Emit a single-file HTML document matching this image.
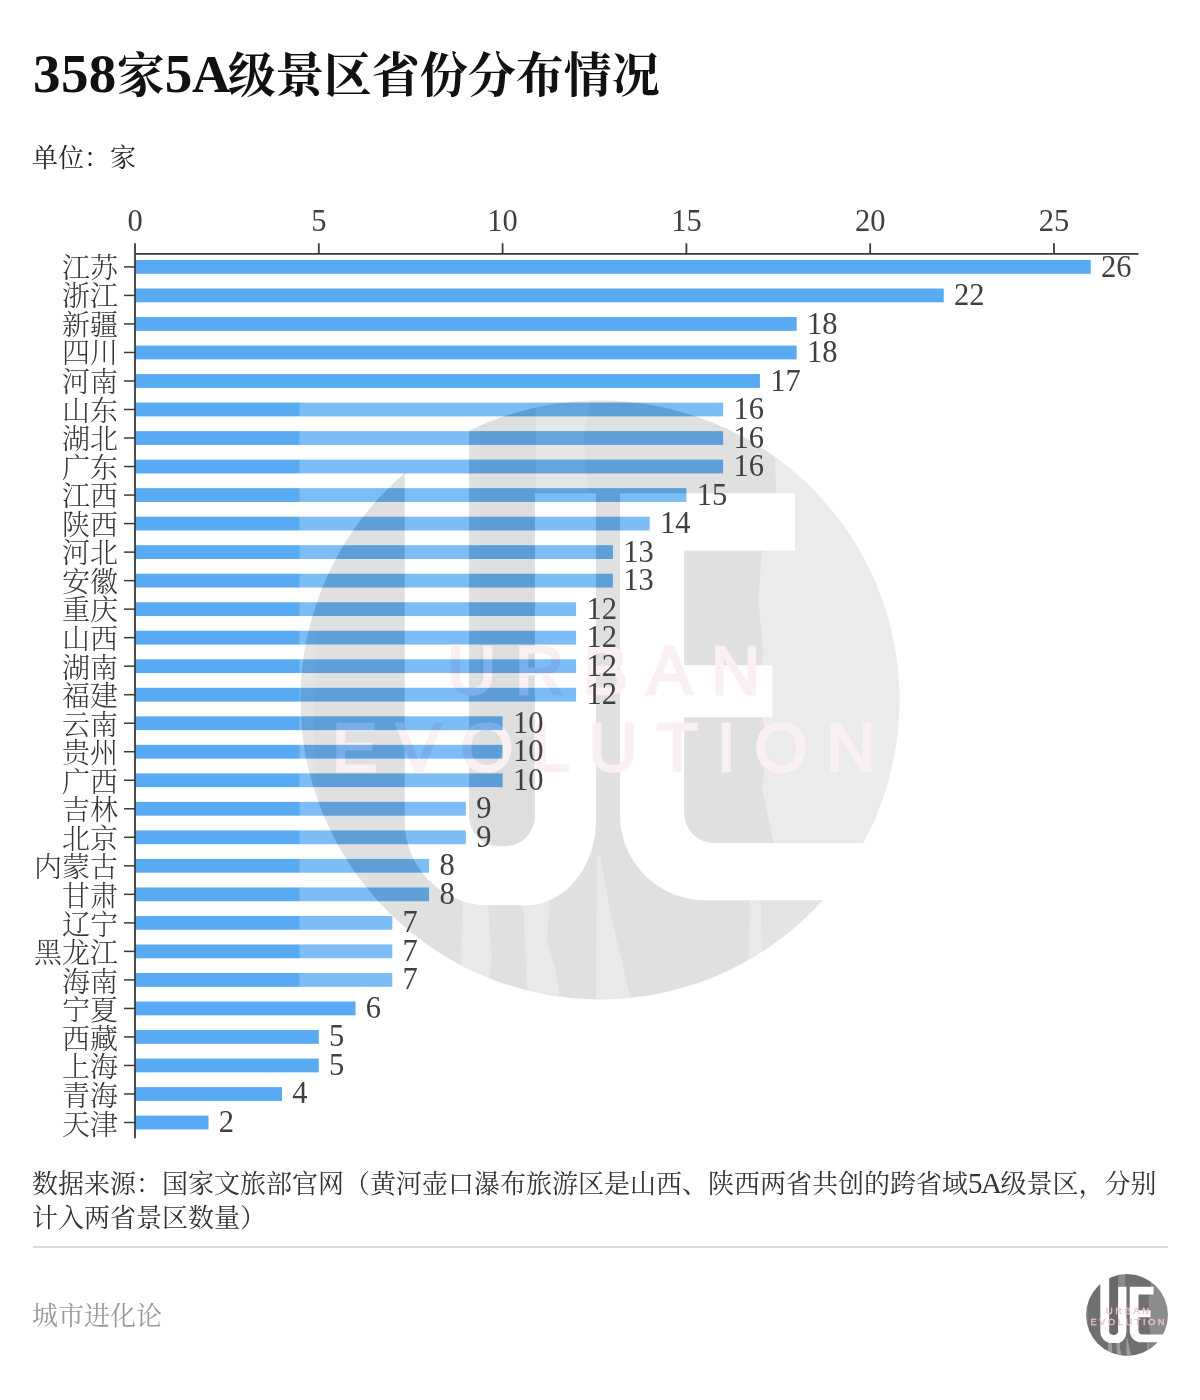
<!DOCTYPE html>
<html lang="zh-CN">
<head>
<meta charset="utf-8">
<title>358家5A级景区省份分布情况</title>
<style>
html,body{margin:0;padding:0;background:#fff;}
body{width:1200px;height:1400px;position:relative;overflow:hidden;font-family:"Liberation Serif","Noto Serif CJK SC",serif;color:#333;}
.title{position:absolute;left:33px;top:40.6px;margin:0;font-size:48px;line-height:70px;font-weight:700;color:#111;white-space:nowrap;}
.title .l1{font-size:55px;line-height:0;letter-spacing:0.4px;position:relative;top:0.6px;}
.title .l2{font-size:53px;line-height:0;letter-spacing:-2.6px;margin-left:-0.6px;position:relative;top:0.6px;}
.unit{position:absolute;left:32px;top:139.5px;margin:0;font-size:26px;line-height:38px;color:#262626;white-space:nowrap;}
.chart{position:absolute;left:0;top:0;}
.chart text{font-family:"Liberation Serif","Noto Serif CJK SC",serif;fill:#363636;}
.chart text.cat{font-size:28px;font-weight:300;}
.chart text.num{font-size:30.5px;fill:#404040;}
.chart text.lg{font-family:"Liberation Sans",sans-serif;font-size:68px;letter-spacing:18.7px;fill:#ebc0cd;stroke:#ebc0cd;stroke-width:2.5px;}
.source{position:absolute;left:32px;top:1168px;width:1140px;margin:0;font-size:26px;line-height:34px;color:#333;}
.source .l3{font-size:29px;line-height:0;letter-spacing:-1.5px;}
.rule{position:absolute;left:33px;top:1245.5px;width:1135px;height:2px;background:#dcdcdc;}
.brand{position:absolute;left:32px;top:1298px;margin:0;font-size:26px;line-height:38px;color:#9a9a9a;white-space:nowrap;}
</style>
</head>
<body>
<h1 class="title"><span class="l1">358</span>家<span class="l1">5</span><span class="l2">A</span>级景区省份分布情况</h1>
<p class="unit">单位：家</p>
<svg class="chart" width="1200" height="1400" viewBox="0 0 1200 1400">
<rect x="135.0" y="260.00" width="955.76" height="13.8" fill="#58abf3"/>
<rect x="135.0" y="288.52" width="808.72" height="13.8" fill="#58abf3"/>
<rect x="135.0" y="317.04" width="661.68" height="13.8" fill="#58abf3"/>
<rect x="135.0" y="345.56" width="661.68" height="13.8" fill="#58abf3"/>
<rect x="135.0" y="374.08" width="624.92" height="13.8" fill="#58abf3"/>
<rect x="135.0" y="402.60" width="588.16" height="13.8" fill="#58abf3"/>
<rect x="135.0" y="431.12" width="588.16" height="13.8" fill="#58abf3"/>
<rect x="135.0" y="459.64" width="588.16" height="13.8" fill="#58abf3"/>
<rect x="135.0" y="488.16" width="551.40" height="13.8" fill="#58abf3"/>
<rect x="135.0" y="516.68" width="514.64" height="13.8" fill="#58abf3"/>
<rect x="135.0" y="545.20" width="477.88" height="13.8" fill="#58abf3"/>
<rect x="135.0" y="573.72" width="477.88" height="13.8" fill="#58abf3"/>
<rect x="135.0" y="602.24" width="441.12" height="13.8" fill="#58abf3"/>
<rect x="135.0" y="630.76" width="441.12" height="13.8" fill="#58abf3"/>
<rect x="135.0" y="659.28" width="441.12" height="13.8" fill="#58abf3"/>
<rect x="135.0" y="687.80" width="441.12" height="13.8" fill="#58abf3"/>
<rect x="135.0" y="716.32" width="367.60" height="13.8" fill="#58abf3"/>
<rect x="135.0" y="744.84" width="367.60" height="13.8" fill="#58abf3"/>
<rect x="135.0" y="773.36" width="367.60" height="13.8" fill="#58abf3"/>
<rect x="135.0" y="801.88" width="330.84" height="13.8" fill="#58abf3"/>
<rect x="135.0" y="830.40" width="330.84" height="13.8" fill="#58abf3"/>
<rect x="135.0" y="858.92" width="294.08" height="13.8" fill="#58abf3"/>
<rect x="135.0" y="887.44" width="294.08" height="13.8" fill="#58abf3"/>
<rect x="135.0" y="915.96" width="257.32" height="13.8" fill="#58abf3"/>
<rect x="135.0" y="944.48" width="257.32" height="13.8" fill="#58abf3"/>
<rect x="135.0" y="973.00" width="257.32" height="13.8" fill="#58abf3"/>
<rect x="135.0" y="1001.52" width="220.56" height="13.8" fill="#58abf3"/>
<rect x="135.0" y="1030.04" width="183.80" height="13.8" fill="#58abf3"/>
<rect x="135.0" y="1058.56" width="183.80" height="13.8" fill="#58abf3"/>
<rect x="135.0" y="1087.08" width="147.04" height="13.8" fill="#58abf3"/>
<rect x="135.0" y="1115.60" width="73.52" height="13.8" fill="#58abf3"/>
<g opacity="0.22">
<g transform="translate(299.50,399.50) scale(1.00167)">
<title>UE · URBAN EVOLUTION 城市进化论</title>
<clipPath id="clipa"><circle cx="300" cy="300" r="299"/></clipPath>
<rect x="0" y="0" width="600" height="600" fill="#fff"/>
<circle cx="300" cy="300" r="299" fill="#777"/>
<g clip-path="url(#clipa)">
<path fill="#fff" fill-opacity="0.36" d="M478 0 L474 50 L476 93.5 H495 V150 H462 L458 200 L463 250 L459 300 L466 340 L462 390 L474 445 H600 V0 Z"/>
<path fill="#000" fill-opacity="0.07" d="M180 0 H235 V445 H180 Z"/>
<path fill="#fff" fill-opacity="0.2" d="M236 0 H290 L284 40 L288 92 H236 Z"/>
<path fill="#fff" fill-opacity="0.3" d="M163 500 H188 L192 560 L186 600 H160 Z M223 500 H250 L247 540 L256 570 L260 600 H228 Z M297 455 L300 455 L312 520 L331 600 H296 Z M450 495 H461 L464 600 H447 Z"/>
<path fill="#fff" fill-opacity="0.12" d="M462 495 H600 V600 H465 Z M0 230 H18 L14 330 L20 420 H0 Z"/>
</g>
<path fill="#fff" d="M105 20 H169.3 V416 A30 30 0 0 0 199.3 446 H205 A30 30 0 0 0 235 416 V93.5 H296 V420 A70 85 0 0 1 226 505 H189 A84 84 0 0 1 105 421 Z"/>
<path fill="#fff" d="M320 93.5 H494.7 V150.7 H384 V265.3 H472 V317.3 H384 V412.7 A30 30 0 0 0 414 442.7 H600 V500 H405 A85 85 0 0 1 320 415 Z"/>
<text class="lg" x="313" y="294" text-anchor="middle">URBAN</text>
<text class="lg" x="313" y="371" text-anchor="middle">EVOLUTION</text>
</g>
</g>
<path d="M135.0 253.8 H1138.5" stroke="#3a3a3a" stroke-width="1.8" fill="none"/>
<path d="M135.0 243.3 V1138.3" stroke="#3a3a3a" stroke-width="1.8" fill="none"/>
<text class="num" x="135.00" y="231" text-anchor="middle">0</text>
<path d="M318.80 243.3 V253.8" stroke="#3a3a3a" stroke-width="1.8" fill="none"/>
<text class="num" x="318.80" y="231" text-anchor="middle">5</text>
<path d="M502.60 243.3 V253.8" stroke="#3a3a3a" stroke-width="1.8" fill="none"/>
<text class="num" x="502.60" y="231" text-anchor="middle">10</text>
<path d="M686.40 243.3 V253.8" stroke="#3a3a3a" stroke-width="1.8" fill="none"/>
<text class="num" x="686.40" y="231" text-anchor="middle">15</text>
<path d="M870.20 243.3 V253.8" stroke="#3a3a3a" stroke-width="1.8" fill="none"/>
<text class="num" x="870.20" y="231" text-anchor="middle">20</text>
<path d="M1054.00 243.3 V253.8" stroke="#3a3a3a" stroke-width="1.8" fill="none"/>
<text class="num" x="1054.00" y="231" text-anchor="middle">25</text>
<path d="M124.0 266.90 H135.0" stroke="#3a3a3a" stroke-width="1.5" fill="none"/>
<text class="cat" x="118.0" y="277.70" text-anchor="end">江苏</text>
<text class="num" x="1101.06" y="276.60">26</text>
<path d="M124.0 295.42 H135.0" stroke="#3a3a3a" stroke-width="1.5" fill="none"/>
<text class="cat" x="118.0" y="306.26" text-anchor="end">浙江</text>
<text class="num" x="954.02" y="305.10">22</text>
<path d="M124.0 323.94 H135.0" stroke="#3a3a3a" stroke-width="1.5" fill="none"/>
<text class="cat" x="118.0" y="334.82" text-anchor="end">新疆</text>
<text class="num" x="806.98" y="333.60">18</text>
<path d="M124.0 352.46 H135.0" stroke="#3a3a3a" stroke-width="1.5" fill="none"/>
<text class="cat" x="118.0" y="363.38" text-anchor="end">四川</text>
<text class="num" x="806.98" y="362.10">18</text>
<path d="M124.0 380.98 H135.0" stroke="#3a3a3a" stroke-width="1.5" fill="none"/>
<text class="cat" x="118.0" y="391.94" text-anchor="end">河南</text>
<text class="num" x="770.22" y="390.60">17</text>
<path d="M124.0 409.50 H135.0" stroke="#3a3a3a" stroke-width="1.5" fill="none"/>
<text class="cat" x="118.0" y="420.50" text-anchor="end">山东</text>
<text class="num" x="733.46" y="419.10">16</text>
<path d="M124.0 438.02 H135.0" stroke="#3a3a3a" stroke-width="1.5" fill="none"/>
<text class="cat" x="118.0" y="449.06" text-anchor="end">湖北</text>
<text class="num" x="733.46" y="447.60">16</text>
<path d="M124.0 466.54 H135.0" stroke="#3a3a3a" stroke-width="1.5" fill="none"/>
<text class="cat" x="118.0" y="477.62" text-anchor="end">广东</text>
<text class="num" x="733.46" y="476.10">16</text>
<path d="M124.0 495.06 H135.0" stroke="#3a3a3a" stroke-width="1.5" fill="none"/>
<text class="cat" x="118.0" y="506.18" text-anchor="end">江西</text>
<text class="num" x="696.70" y="504.60">15</text>
<path d="M124.0 523.58 H135.0" stroke="#3a3a3a" stroke-width="1.5" fill="none"/>
<text class="cat" x="118.0" y="534.74" text-anchor="end">陕西</text>
<text class="num" x="659.94" y="533.10">14</text>
<path d="M124.0 552.10 H135.0" stroke="#3a3a3a" stroke-width="1.5" fill="none"/>
<text class="cat" x="118.0" y="563.30" text-anchor="end">河北</text>
<text class="num" x="623.18" y="561.60">13</text>
<path d="M124.0 580.62 H135.0" stroke="#3a3a3a" stroke-width="1.5" fill="none"/>
<text class="cat" x="118.0" y="591.86" text-anchor="end">安徽</text>
<text class="num" x="623.18" y="590.10">13</text>
<path d="M124.0 609.14 H135.0" stroke="#3a3a3a" stroke-width="1.5" fill="none"/>
<text class="cat" x="118.0" y="620.42" text-anchor="end">重庆</text>
<text class="num" x="586.42" y="618.60">12</text>
<path d="M124.0 637.66 H135.0" stroke="#3a3a3a" stroke-width="1.5" fill="none"/>
<text class="cat" x="118.0" y="648.98" text-anchor="end">山西</text>
<text class="num" x="586.42" y="647.10">12</text>
<path d="M124.0 666.18 H135.0" stroke="#3a3a3a" stroke-width="1.5" fill="none"/>
<text class="cat" x="118.0" y="677.54" text-anchor="end">湖南</text>
<text class="num" x="586.42" y="675.60">12</text>
<path d="M124.0 694.70 H135.0" stroke="#3a3a3a" stroke-width="1.5" fill="none"/>
<text class="cat" x="118.0" y="706.10" text-anchor="end">福建</text>
<text class="num" x="586.42" y="704.10">12</text>
<path d="M124.0 723.22 H135.0" stroke="#3a3a3a" stroke-width="1.5" fill="none"/>
<text class="cat" x="118.0" y="734.66" text-anchor="end">云南</text>
<text class="num" x="512.90" y="732.60">10</text>
<path d="M124.0 751.74 H135.0" stroke="#3a3a3a" stroke-width="1.5" fill="none"/>
<text class="cat" x="118.0" y="763.22" text-anchor="end">贵州</text>
<text class="num" x="512.90" y="761.10">10</text>
<path d="M124.0 780.26 H135.0" stroke="#3a3a3a" stroke-width="1.5" fill="none"/>
<text class="cat" x="118.0" y="791.78" text-anchor="end">广西</text>
<text class="num" x="512.90" y="789.60">10</text>
<path d="M124.0 808.78 H135.0" stroke="#3a3a3a" stroke-width="1.5" fill="none"/>
<text class="cat" x="118.0" y="820.34" text-anchor="end">吉林</text>
<text class="num" x="476.14" y="818.10">9</text>
<path d="M124.0 837.30 H135.0" stroke="#3a3a3a" stroke-width="1.5" fill="none"/>
<text class="cat" x="118.0" y="848.90" text-anchor="end">北京</text>
<text class="num" x="476.14" y="846.60">9</text>
<path d="M124.0 865.82 H135.0" stroke="#3a3a3a" stroke-width="1.5" fill="none"/>
<text class="cat" x="118.0" y="877.46" text-anchor="end">内蒙古</text>
<text class="num" x="439.38" y="875.10">8</text>
<path d="M124.0 894.34 H135.0" stroke="#3a3a3a" stroke-width="1.5" fill="none"/>
<text class="cat" x="118.0" y="906.02" text-anchor="end">甘肃</text>
<text class="num" x="439.38" y="903.60">8</text>
<path d="M124.0 922.86 H135.0" stroke="#3a3a3a" stroke-width="1.5" fill="none"/>
<text class="cat" x="118.0" y="934.58" text-anchor="end">辽宁</text>
<text class="num" x="402.62" y="932.10">7</text>
<path d="M124.0 951.38 H135.0" stroke="#3a3a3a" stroke-width="1.5" fill="none"/>
<text class="cat" x="118.0" y="963.14" text-anchor="end">黑龙江</text>
<text class="num" x="402.62" y="960.60">7</text>
<path d="M124.0 979.90 H135.0" stroke="#3a3a3a" stroke-width="1.5" fill="none"/>
<text class="cat" x="118.0" y="991.70" text-anchor="end">海南</text>
<text class="num" x="402.62" y="989.10">7</text>
<path d="M124.0 1008.42 H135.0" stroke="#3a3a3a" stroke-width="1.5" fill="none"/>
<text class="cat" x="118.0" y="1020.26" text-anchor="end">宁夏</text>
<text class="num" x="365.86" y="1017.60">6</text>
<path d="M124.0 1036.94 H135.0" stroke="#3a3a3a" stroke-width="1.5" fill="none"/>
<text class="cat" x="118.0" y="1048.82" text-anchor="end">西藏</text>
<text class="num" x="329.10" y="1046.10">5</text>
<path d="M124.0 1065.46 H135.0" stroke="#3a3a3a" stroke-width="1.5" fill="none"/>
<text class="cat" x="118.0" y="1077.38" text-anchor="end">上海</text>
<text class="num" x="329.10" y="1074.60">5</text>
<path d="M124.0 1093.98 H135.0" stroke="#3a3a3a" stroke-width="1.5" fill="none"/>
<text class="cat" x="118.0" y="1105.94" text-anchor="end">青海</text>
<text class="num" x="292.34" y="1103.10">4</text>
<path d="M124.0 1122.50 H135.0" stroke="#3a3a3a" stroke-width="1.5" fill="none"/>
<text class="cat" x="118.0" y="1134.50" text-anchor="end">天津</text>
<text class="num" x="218.82" y="1131.60">2</text>
<g>
<g transform="translate(1085.96,1273.96) scale(0.13679)">
<title>UE · URBAN EVOLUTION 城市进化论</title>
<clipPath id="clipb"><circle cx="300" cy="300" r="299"/></clipPath>
<rect x="0" y="0" width="600" height="600" fill="#fff"/>
<circle cx="300" cy="300" r="299" fill="#707070"/>
<g clip-path="url(#clipb)">
<path fill="#fff" fill-opacity="0.2" d="M478 0 L474 50 L476 93.5 H495 V150 H462 L458 200 L463 250 L459 300 L466 340 L462 390 L474 445 H600 V0 Z"/>
<path fill="#000" fill-opacity="0.07" d="M180 0 H235 V445 H180 Z"/>
<path fill="#fff" fill-opacity="0.2" d="M236 0 H290 L284 40 L288 92 H236 Z"/>
<path fill="#fff" fill-opacity="0.3" d="M163 500 H188 L192 560 L186 600 H160 Z M223 500 H250 L247 540 L256 570 L260 600 H228 Z M297 455 L300 455 L312 520 L331 600 H296 Z M450 495 H461 L464 600 H447 Z"/>
<path fill="#fff" fill-opacity="0.12" d="M462 495 H600 V600 H465 Z M0 230 H18 L14 330 L20 420 H0 Z"/>
</g>
<path fill="#fff" d="M105 20 H169.3 V416 A30 30 0 0 0 199.3 446 H205 A30 30 0 0 0 235 416 V93.5 H296 V420 A70 85 0 0 1 226 505 H189 A84 84 0 0 1 105 421 Z"/>
<path fill="#fff" d="M320 93.5 H494.7 V150.7 H384 V265.3 H472 V317.3 H384 V412.7 A30 30 0 0 0 414 442.7 H600 V500 H405 A85 85 0 0 1 320 415 Z"/>
<text class="lg" x="313" y="294" text-anchor="middle">URBAN</text>
<text class="lg" x="313" y="371" text-anchor="middle">EVOLUTION</text>
</g>
</g>
</svg>
<p class="source">数据来源：国家文旅部官网（黄河壶口瀑布旅游区是山西、陕西两省共创的跨省域<span class="l3">5A</span>级景区，分别计入两省景区数量）</p>
<div class="rule"></div>
<p class="brand">城市进化论</p>
</body>
</html>
